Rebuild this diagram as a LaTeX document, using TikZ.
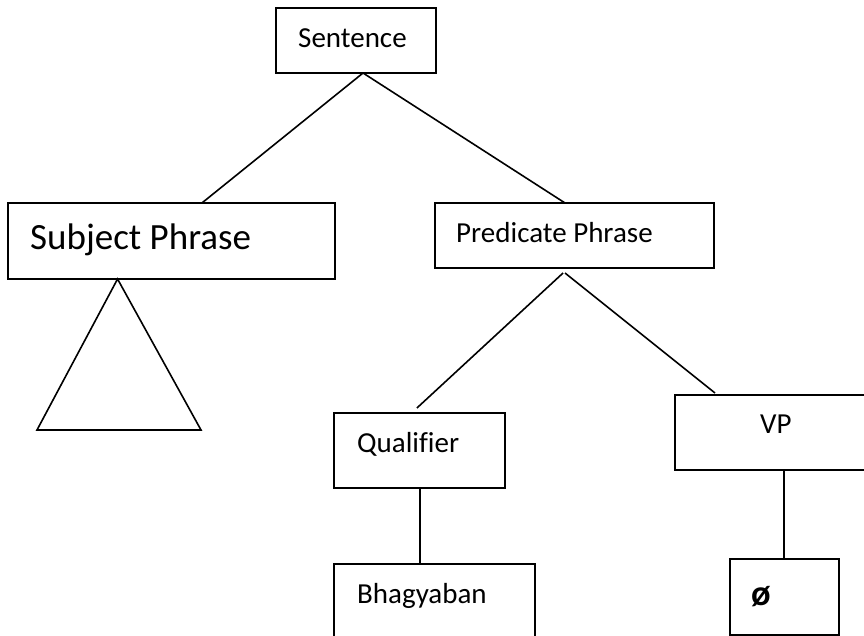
\documentclass[tikz,border=0pt]{standalone}
\usepackage{fontspec}
\setmainfont{Carlito}[Ligatures=CommonOff]
\usetikzlibrary{calc}
\begin{document}
\begin{tikzpicture}[x=1pt,y=-1pt,
  box/.style={draw, line width=1.6pt, rectangle, inner sep=0pt, outer sep=0pt, anchor=north west},
  lbl/.style={inner sep=0pt, anchor=base west, font=\fontsize{29}{34}\selectfont},
  big/.style={font=\fontsize{37}{44}\selectfont},
  sym/.style={font=\fontsize{36}{42}\selectfont\bfseries},
  link/.style={line width=1.6pt}]
\useasboundingbox (0,0) rectangle (864,636);
\clip (0,0) rectangle (864,636);

% boxes of the tree
\node[box, minimum width=160pt, minimum height=65pt] (sent) at (276,8) {};
\node[box, minimum width=327pt, minimum height=76pt] (subj) at (8,203) {};
\node[box, minimum width=279pt, minimum height=65pt] (pred) at (435,203) {};
\node[box, minimum width=171pt, minimum height=75pt] (qual) at (334,413) {};
\node[box, minimum width=201pt, minimum height=95pt] (bhag) at (334,564) {};
\node[box, minimum width=215pt, minimum height=75pt] (vp)   at (675,395) {};
\node[box, minimum width=109pt, minimum height=76pt] (null) at (730,559) {};

% labels
\node[lbl] (sentT) at (298,48) {Sentence};
\node[lbl, big] (subjT) at (30,250) {Subject Phrase};
\node[lbl] (predT) at (456,243) {Predicate Phrase};
\node[lbl] (qualT) at (357,452) {Qualifier};
\node[lbl] (bhagT) at (357,603) {Bhagyaban};
\node[lbl] (vpT) at (760,433) {VP};
\node[lbl, sym] (nullT) at (751,605) {ø};

% branches
\coordinate (sentFoot) at ($(sent.south west)!0.544!(sent.south east)$);
\draw[link] (sentFoot) -- ($(subj.north west)!0.593!(subj.north east)$);
\draw[link] (sentFoot) -- ($(pred.north west)!0.466!(pred.north east)$);
\draw[link] ($(pred.south west)!0.459!(pred.south east)+(0,5)$) -- ($(qual.north west)!0.485!(qual.north east)+(0,-5)$);
\draw[link] ($(pred.south west)!0.466!(pred.south east)+(0,5)$) -- ($(vp.north west)!0.186!(vp.north east)+(0,-2)$);
\coordinate (qualFoot) at ($(qual.south)+(0.5,0)$);
\draw[link] (qualFoot) -- (qualFoot |- bhag.north);
\coordinate (nullTop) at ($(null.north)+(-0.5,0)$);
\draw[link] (nullTop) -- (nullTop |- vp.south);

% collapsed subtree under the subject phrase
\coordinate (apex) at ($(subj.south west)!0.335!(subj.south east)$);
\draw[link, line join=miter] (apex) -- (201,430) -- (37,430) -- cycle;
\end{tikzpicture}
\end{document}
